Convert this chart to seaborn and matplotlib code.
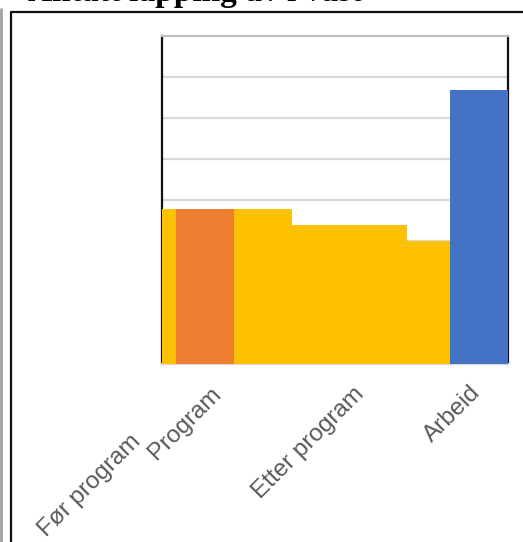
import numpy as np
import pandas as pd
import matplotlib
matplotlib.use("Agg")
import matplotlib.pyplot as plt
from matplotlib.lines import Line2D
import seaborn as sns

# ---- data ----
segment_edges = [0, 1, 5, 9, 17, 20, 24]
segment_heights = [3.78, 3.78, 3.78, 3.39, 3.0, 6.68]
segment_phase = ["Venter", "Program", "Venter", "Venter", "Venter", "Arbeid"]
category_labels = ["Før program", "Program", "Etter program", "Arbeid"]
title_text = "Antatt lapping av i vast"

phase_colors = {"Venter": "#FFC000", "Program": "#ED7D31", "Arbeid": "#4472C4"}

edges = np.array(segment_edges, dtype=float)
df = pd.DataFrame({
    "pos": (edges[:-1] + edges[1:]) / 2,
    "height": segment_heights,
    "phase": segment_phase,
})

sns.set_style("white")
plt.rcParams["font.family"] = ["Liberation Sans", "DejaVu Sans"]

W, H = 523, 542
fig = plt.figure(figsize=(W / 100, H / 100), dpi=100)
ax = fig.add_axes([162 / W, 1 - 364 / H, (508 - 162) / W, (364 - 36) / H])

sns.histplot(data=df, x="pos", weights="height", hue="phase",
             bins=[float(e) for e in segment_edges],
             palette=phase_colors, alpha=1, linewidth=0, multiple="layer",
             legend=False, ax=ax, zorder=3)

ax.set_xlim(0, 24)
ax.set_ylim(0, 8)
ax.set_yticks(np.arange(1, 8))
ax.yaxis.grid(True, color="#D9D9D9", linewidth=1.6, zorder=0)
ax.xaxis.grid(False)
ax.set_axisbelow(True)
ax.set_xticks([])
ax.tick_params(left=False, bottom=False, labelleft=False)
ax.set_xlabel("")
ax.set_ylabel("")

for side in ["left", "right"]:
    ax.spines[side].set_color("#111111")
    ax.spines[side].set_linewidth(1.6)
ax.spines["top"].set_color("#BFBFBF")
ax.spines["top"].set_linewidth(1.6)
ax.spines["bottom"].set_color("#D9D9D9")
ax.spines["bottom"].set_linewidth(1.6)

# category labels (rotated, anchored at their right end)
label_x = [-1.45, 4.15, 14.1, 22.15]
label_dy = [-78, -31, -31, -30]
for lab, lx, dy in zip(category_labels, label_x, label_dy):
    ax.annotate(lab, xy=(lx, 0), xycoords=("data", "axes fraction"),
                xytext=(0, dy * 0.72), textcoords="offset points",
                rotation=45, rotation_mode="anchor", ha="right", va="baseline",
                fontsize=17.5, color="#595959", annotation_clip=False)

# outer frame lines
fig.add_artist(Line2D([11 / W, 11 / W], [0, 1 - 11.5 / H], color="#111111",
                      linewidth=1.6, transform=fig.transFigure))
fig.add_artist(Line2D([11 / W, 1], [1 - 11.5 / H, 1 - 11.5 / H], color="#111111",
                      linewidth=1.6, transform=fig.transFigure))
fig.add_artist(Line2D([1 / W, 1 / W], [0, 1 - 9 / H], color="#A0A0A0",
                      linewidth=2, transform=fig.transFigure))

fig.text(28 / W, 1 - 0.5 / H, title_text, ha="left", va="baseline",
         fontsize=24, fontweight="bold", family=["Liberation Serif", "DejaVu Serif"],
         color="black")

fig.savefig("out.png", dpi=100)
